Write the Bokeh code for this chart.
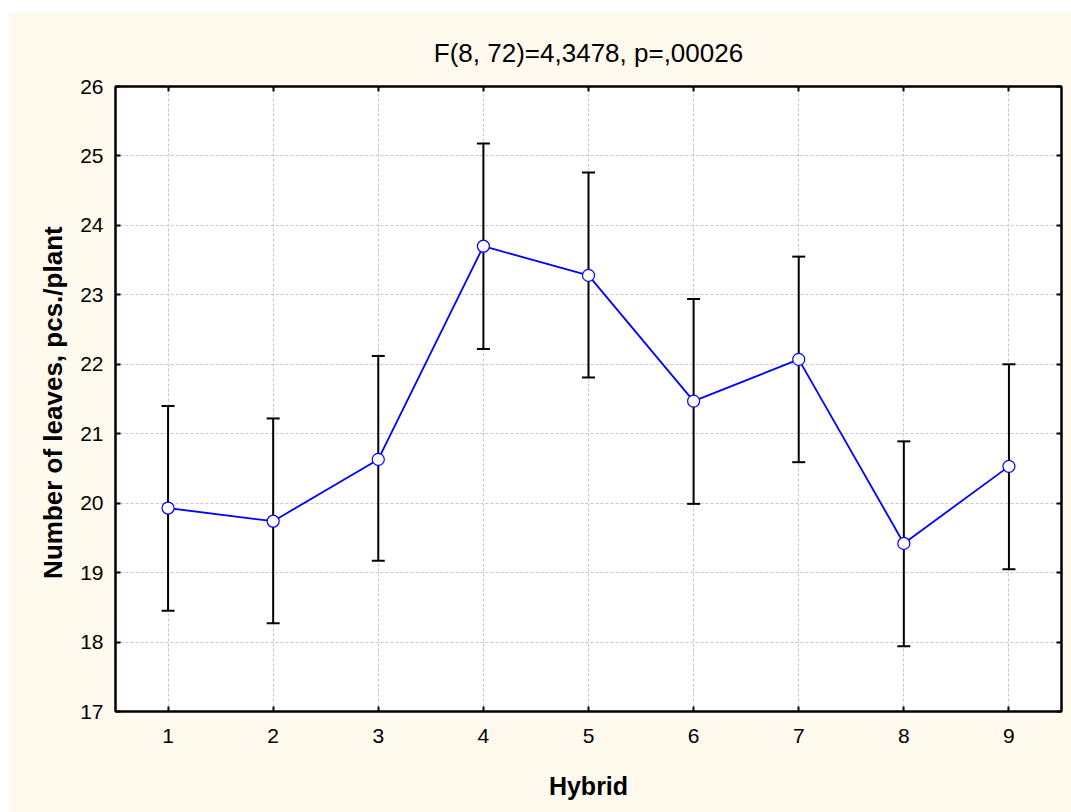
from bokeh.plotting import figure
from bokeh.models import (ColumnDataSource, Whisker, TeeHead, FixedTicker, LinearAxis,
                          Range1d, Spacer)
from bokeh.layouts import column, row
from bokeh.embed import file_html
from bokeh.resources import INLINE

hybrids = [1, 2, 3, 4, 5, 6, 7, 8, 9]
means = [19.93, 19.74, 20.63, 23.70, 23.28, 21.47, 22.07, 19.42, 20.53]
upper = [21.40, 21.22, 22.12, 25.18, 24.76, 22.94, 23.55, 20.89, 22.00]
lower = [18.45, 18.27, 19.17, 22.22, 21.81, 19.99, 20.59, 17.94, 19.05]
y_ticks = [17, 18, 19, 20, 21, 22, 23, 24, 25, 26]
title_text = "F(8, 72)=4,3478, p=,00026"
x_label = "Hybrid"
y_label = "Number of leaves,  pcs./plant"

BG = "#FFF9EE"
FONT = "Liberation Sans"

src = ColumnDataSource(dict(x=hybrids, m=means, up=upper, lo=lower))

p = figure(width=1063, height=800, output_backend="svg", toolbar_location=None,
           x_range=Range1d(0.5, 9.5), y_range=Range1d(17, 26),
           min_border_left=107, min_border_right=10, min_border_top=74, min_border_bottom=101,
           background_fill_color="white", border_fill_color=BG)
p.outline_line_color = "black"
p.outline_line_width = 2

p.title.text = title_text
p.title.align = "center"
p.title.text_font = FONT
p.title.text_font_style = "normal"
p.title.text_font_size = "26px"
p.title.text_color = "black"
p.title.offset = -38
p.title.standoff = 38

for ax in (p.xaxis[0], p.yaxis[0]):
    ax.major_tick_in = 5
    ax.major_tick_out = 0
    ax.major_tick_line_width = 2
    ax.minor_tick_line_color = None
    ax.axis_line_width = 2
    ax.axis_line_color = "black"
    ax.major_label_text_font = FONT
    ax.major_label_text_font_size = "21px"
    ax.major_label_text_color = "black"
    ax.axis_label_text_font = FONT
    ax.axis_label_text_font_style = "bold"
    ax.axis_label_text_font_size = "25px"
    ax.axis_label_text_color = "black"

p.yaxis.axis_label_text_font_size = "26px"
p.xaxis.ticker = FixedTicker(ticks=hybrids)
p.yaxis.ticker = FixedTicker(ticks=y_ticks)
p.xaxis.axis_label = x_label
p.yaxis.axis_label = y_label
p.xaxis.major_label_standoff = 17
p.xaxis.axis_label_standoff = 26
p.yaxis.major_label_standoff = 12
p.yaxis.axis_label_standoff = 9

for loc, tk in (("right", y_ticks), ("above", hybrids)):
    a = LinearAxis(ticker=FixedTicker(ticks=tk))
    a.major_tick_in = 5
    a.major_tick_out = 0
    a.major_tick_line_width = 2
    a.minor_tick_line_color = None
    a.axis_line_width = 2
    a.major_label_overrides = {t: "" for t in tk}
    a.major_label_standoff = 0
    p.add_layout(a, loc)

for g in (p.xgrid[0], p.ygrid[0]):
    g.grid_line_color = "#C8C8C8"
    g.grid_line_dash = "3 2"
    g.grid_line_width = 1
p.xgrid.ticker = FixedTicker(ticks=hybrids)
p.ygrid.ticker = FixedTicker(ticks=y_ticks)

wh = Whisker(base="x", upper="up", lower="lo", source=src, line_color="black", line_width=2,
             upper_head=TeeHead(size=13, line_width=2, line_color="black"),
             lower_head=TeeHead(size=13, line_width=2, line_color="black"))
p.add_layout(wh)

p.line("x", "m", source=src, line_color="#0000FF", line_width=1.8)
p.scatter("x", "m", source=src, size=12, fill_color="white", line_color="#0000FF", line_width=1.2)

layout = column(Spacer(height=12, width=1071), row(Spacer(width=8, height=800), p))

open("out.html", "w").write(file_html(layout, INLINE))
